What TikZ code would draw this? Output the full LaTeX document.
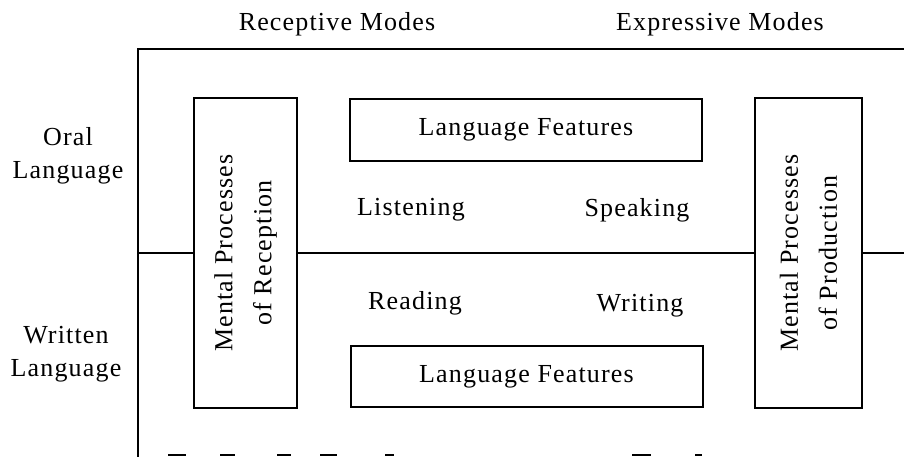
\documentclass[tikz,border=0pt]{standalone}
\usepackage{fontspec}
\setmainfont{Liberation Serif}[LetterSpace=4.5]
\tikzset{
  featbox/.style={draw, line width=1pt, minimum width=176pt, minimum height=31pt},
  mentalbox/.style={draw, line width=1pt, rotate=90, align=center, minimum width=155pt,
    font=\fontsize{13}{19.5}\selectfont},
  sidelabel/.style={align=center, font=\fontsize{13}{16.5}\selectfont},
}

\begin{document}
\begin{tikzpicture}[x=0.5pt, y=0.5pt, font=\fontsize{13}{15}\selectfont]
  \useasboundingbox (0,0) rectangle (904,457);

  % Column headings
  \node[anchor=base] (recmodes) at (337,427) {Receptive Modes};
  \node[anchor=base] (expmodes) at (720,427) {Expressive Modes};

  % Row headings
  \node[sidelabel] (oral) at (68,301.5) {Oral\\Language};
  \node[sidelabel] (written) at (66,102.5) {Written\\Language};

  % Outer frame
  \coordinate (topL) at (138,408);
  \coordinate (topR) at (904,408);
  \coordinate (botL) at (138,0);
  \draw[line width=1pt] (topR) -- (topL) -- (botL);

  % Mental processes
  \node[mentalbox, minimum height=51.5pt] (recv) at (245.5,204) {Mental Processes\\of Reception};
  \node[mentalbox, minimum height=53.5pt] (prod) at (808.5,204) {Mental Processes\\of Production};

  % Dividing line between oral and written
  \coordinate (midL) at (138,204);
  \coordinate (midR) at (904,204);
  \draw[line width=1pt] (midL) -- (recv.north);
  \draw[line width=1pt] (recv.south) -- (prod.north);
  \draw[line width=1pt] (prod.south) -- (midR);

  % Language features
  \node[featbox] (featoral) at (526,327) {Language Features};
  \node[featbox, minimum height=30.5pt] (featwritten) at (526.5,80.5) {Language Features};

  % The four skills
  \node[anchor=base] (listen) at (411,242) {Listening};
  \node[anchor=base] (speak) at (637,241) {Speaking};
  \node[anchor=base] (read) at (415,148) {Reading};
  \node[anchor=base] (write) at (640,146) {Writing};

  % Cut-off bottom edge
  \foreach \a/\b in {168/186, 220/235, 277/291, 320/337, 385/394, 632/651, 695/702}
    \draw[line width=1.2pt] (\a,2) -- (\b,2);
\end{tikzpicture}
\end{document}
